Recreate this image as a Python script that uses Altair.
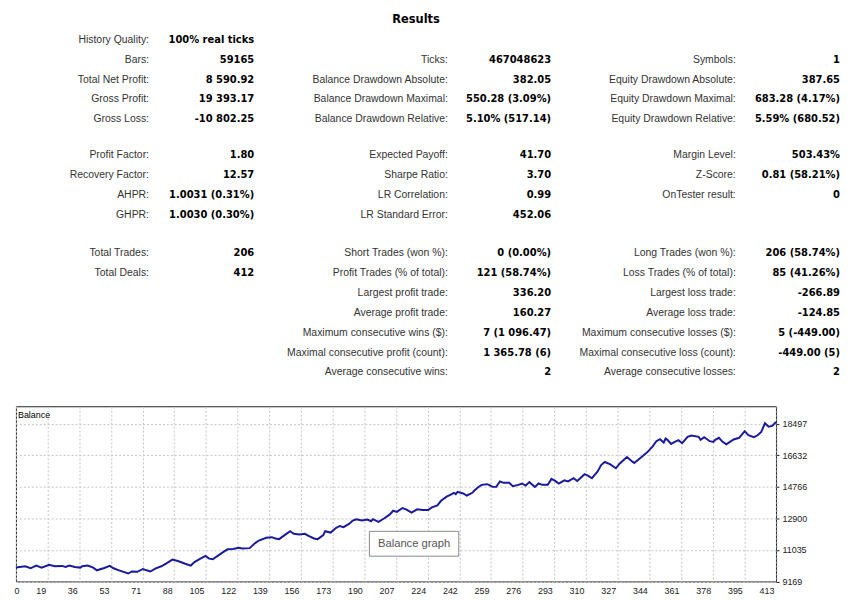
import altair as alt
import pandas as pd

# ---------------- report table ----------------
col1_labels = ["History Quality:", "Bars:", "Total Net Profit:", "Gross Profit:", "Gross Loss:",
               "Profit Factor:", "Recovery Factor:", "AHPR:", "GHPR:",
               "Total Trades:", "Total Deals:"]
col1_values = ["100% real ticks", "59165", "8 590.92", "19 393.17", "-10 802.25",
               "1.80", "12.57", "1.0031 (0.31%)", "1.0030 (0.30%)",
               "206", "412"]
col1_rows = [(0, 0), (0, 1), (0, 2), (0, 3), (0, 4),
             (1, 0), (1, 1), (1, 2), (1, 3),
             (2, 0), (2, 1)]

col2_labels = ["Ticks:", "Balance Drawdown Absolute:", "Balance Drawdown Maximal:", "Balance Drawdown Relative:",
               "Expected Payoff:", "Sharpe Ratio:", "LR Correlation:", "LR Standard Error:",
               "Short Trades (won %):", "Profit Trades (% of total):", "Largest profit trade:",
               "Average profit trade:", "Maximum consecutive wins ($):",
               "Maximal consecutive profit (count):", "Average consecutive wins:"]
col2_values = ["467048623", "382.05", "550.28 (3.09%)", "5.10% (517.14)",
               "41.70", "3.70", "0.99", "452.06",
               "0 (0.00%)", "121 (58.74%)", "336.20",
               "160.27", "7 (1 096.47)",
               "1 365.78 (6)", "2"]
col2_rows = [(0, 1), (0, 2), (0, 3), (0, 4),
             (1, 0), (1, 1), (1, 2), (1, 3),
             (2, 0), (2, 1), (2, 2), (2, 3), (2, 4), (2, 5), (2, 6)]

col3_labels = ["Symbols:", "Equity Drawdown Absolute:", "Equity Drawdown Maximal:", "Equity Drawdown Relative:",
               "Margin Level:", "Z-Score:", "OnTester result:",
               "Long Trades (won %):", "Loss Trades (% of total):", "Largest loss trade:",
               "Average loss trade:", "Maximum consecutive losses ($):",
               "Maximal consecutive loss (count):", "Average consecutive losses:"]
col3_values = ["1", "387.65", "683.28 (4.17%)", "5.59% (680.52)",
               "503.43%", "0.81 (58.21%)", "0",
               "206 (58.74%)", "85 (41.26%)", "-266.89",
               "-124.85", "5 (-449.00)",
               "-449.00 (5)", "2"]
col3_rows = [(0, 1), (0, 2), (0, 3), (0, 4),
             (1, 0), (1, 1), (1, 2),
             (2, 0), (2, 1), (2, 2), (2, 3), (2, 4), (2, 5), (2, 6)]

report_title = "Results"

# ---------------- balance graph ----------------
deal = [0, 5, 8, 11, 14, 18, 21, 25, 27, 29,
        32, 35, 36, 39, 42, 44, 48, 51, 53, 56,
        61, 63, 66, 69, 71, 73, 76, 79, 82, 85,
        88, 92, 95, 97, 100, 103, 105, 107, 110, 113,
        115, 118, 121, 123, 127, 130, 132, 136, 139, 141,
        143, 146, 149, 151, 154, 157, 159, 162, 164, 167,
        168, 171, 174, 176, 178, 181, 183, 185, 188, 191,
        193, 194, 197, 200, 203, 205, 207, 210, 212, 215,
        218, 221, 224, 226, 229, 231, 234, 236, 238, 239,
        240, 243, 245, 248, 249, 251, 253, 256, 257, 259,
        261, 263, 265, 268, 270, 273, 275, 277, 279, 282,
        284, 286, 289, 291, 293, 295, 298, 300, 303, 305,
        309, 311, 313, 316, 318, 320, 323, 326, 328, 332,
        335, 336, 339, 343, 346, 348, 350, 352, 353, 354,
        356, 358, 360, 362, 365, 367, 371, 372, 374, 377,
        379, 380, 382, 384, 386, 388, 390, 393, 396, 398,
        401, 403, 405, 407, 409, 411, 413]
balance = [10000, 10070, 9950, 10110, 9990, 10150, 10070, 10090, 10030, 10110,
           10030, 9990, 10070, 10110, 9990, 9830, 9970, 10090, 9950, 9830,
           9640, 9760, 9740, 9910, 9830, 9760, 9950, 10070, 10260, 10460,
           10380, 10220, 10110, 10320, 10500, 10680, 10520, 10480, 10710, 10930,
           11070, 11090, 11160, 11120, 11140, 11440, 11590, 11750, 11790, 11710,
           11670, 11910, 12140, 11990, 11950, 11990, 11870, 11710, 11670, 11910,
           12140, 12060, 12340, 12450, 12380, 12570, 12770, 12850, 12770, 12830,
           12730, 12850, 12690, 12890, 13120, 13350, 13280, 13510, 13430, 13240,
           13430, 13390, 13390, 13550, 13670, 13940, 14180, 14290, 14410, 14330,
           14470, 14370, 14250, 14410, 14530, 14720, 14880, 14920, 14880, 14760,
           14760, 15080, 15000, 15000, 14800, 14880, 14960, 14840, 15040, 14760,
           14960, 14880, 14880, 15230, 15110, 14960, 15150, 15080, 15270, 15110,
           15510, 15410, 15270, 15660, 16050, 16230, 16090, 15860, 16130, 16520,
           16250, 16170, 16440, 16800, 17150, 17460, 17580, 17380, 17620, 17540,
           17300, 17420, 17520, 17340, 17720, 17790, 17720, 17540, 17700, 17460,
           17420, 17540, 17660, 17420, 17270, 17420, 17560, 17660, 18050, 17810,
           17700, 17810, 18010, 18520, 18320, 18360, 18591]

x_tick_labels = ["0", "19", "36", "53", "71", "88", "105", "122", "139", "156", "173", "190",
                 "207", "224", "242", "259", "276", "293", "310", "327", "344", "361", "378",
                 "395", "413"]
y_tick_values = [9169, 11035, 12900, 14766, 16632, 18497]
graph_name = "Balance"
button_text = "Balance graph"

# ---------------- layout constants ----------------
group_start = [0.0, 5.8, 10.75]
LABEL_FONT = "Liberation Sans"
VALUE_FONT = "DejaVu Sans"

rows = []
for c, (labs, vals, pos) in enumerate([(col1_labels, col1_values, col1_rows),
                                       (col2_labels, col2_values, col2_rows),
                                       (col3_labels, col3_values, col3_rows)]):
    for lab, val, (g, r) in zip(labs, vals, pos):
        rows.append({"label": lab, "value": val, "xl": 2 * c, "xv": 2 * c + 1,
                     "slot": group_start[g] + r})
df_top = pd.DataFrame(rows)

xscale_top = alt.Scale(domain=[0, 1, 2, 3, 4, 5], range=[134, 240, 435, 539, 725, 830])
yenc_top = alt.Y("slot:Q", scale=alt.Scale(domain=[-0.55, 17.95], reverse=True, nice=False, zero=False),
                 axis=None)

base_top = alt.Chart(df_top)
t_labels = base_top.mark_text(align="right", baseline="middle", font=LABEL_FONT, fontSize=10.5,
                              color="#333333").encode(
    x=alt.X("xl:Q", scale=xscale_top, axis=None), y=yenc_top, text="label:N")
t_values = base_top.mark_text(align="right", baseline="middle", font=VALUE_FONT, fontSize=10,
                              fontWeight="bold", color="#000000").encode(
    x=alt.X("xv:Q", scale=xscale_top, axis=None), y=yenc_top, text="value:N")

top = alt.layer(t_labels, t_values).properties(
    width=832, height=370,
    title=alt.TitleParams(report_title, font=VALUE_FONT, fontSize=11.5, fontWeight="bold",
                          anchor="middle", dx=-13, color="#000000"),
)

# bottom chart
df_bal = pd.DataFrame({"deal": deal, "balance": balance})
x_max = int(x_tick_labels[-1])
n_int = len(x_tick_labels) - 1
step = x_max / n_int
x_tick_pos = [round(k * step, 6) for k in range(n_int + 1)]
lab_arr = "[" + ",".join("'" + s + "'" for s in x_tick_labels) + "]"

xaxis = alt.Axis(values=x_tick_pos, labelExpr=f"{lab_arr}[round(datum.value / {step})]",
                 grid=True, gridDash=[2, 2], gridColor="#c4c4c4", ticks=False, domain=False,
                 labelFont=LABEL_FONT, labelFontSize=9, labelColor="#222222",
                 labelAlign={"condition": {"test": "datum.value == 0", "value": "left"}, "value": "right"},
                 labelOffset=-2,
                 labelPadding=5, labelBaseline="top", labelFlush=False, labelOverlap=False, title=None)
yaxis = alt.Axis(values=y_tick_values, format="d", orient="right", grid=True, gridDash=[2, 2],
                 gridColor="#c4c4c4", ticks=True, tickSize=3, tickColor="#222222", domain=False,
                 labelFont=LABEL_FONT, labelFontSize=9, labelColor="#222222", labelPadding=3,
                 labelFlush=False, labelOverlap=False, title=None)

line = alt.Chart(df_bal).mark_line(color="#1a1a9c", strokeWidth=2).encode(
    x=alt.X("deal:Q", scale=alt.Scale(domain=[0, x_max], nice=False, zero=False), axis=xaxis),
    y=alt.Y("balance:Q", scale=alt.Scale(domain=[9169, 19524], nice=False, zero=False), axis=yaxis),
)

btn_df = pd.DataFrame({"t": [button_text]})
btn_rect = alt.Chart(btn_df).mark_rect(fill="white", stroke="#8a8a8a", strokeWidth=1).encode(
    x=alt.value(356), x2=alt.value(446), y=alt.value(126), y2=alt.value(151))
btn_text = alt.Chart(btn_df).mark_text(font=LABEL_FONT, fontSize=11.3, color="#555555",
                                       align="center", baseline="middle").encode(
    x=alt.value(401), y=alt.value(138.5), text="t:N")

bottom = alt.layer(line, btn_rect, btn_text).properties(
    width=765.5, height=176.5,
    view=alt.ViewBackground(stroke="#222222", strokeWidth=1),
    title=alt.TitleParams(graph_name, anchor="start", offset=-14, dx=6, font=LABEL_FONT, fontSize=9,
                          fontWeight="normal", color="#000000"),
)

chart = alt.vconcat(top, bottom, spacing=8).properties(
    padding={"left": 3, "top": 3, "right": 0, "bottom": 0},
    background="white",
).configure_view(stroke="transparent")

chart.save("out.html", embed_options={"renderer": "svg", "actions": False})
